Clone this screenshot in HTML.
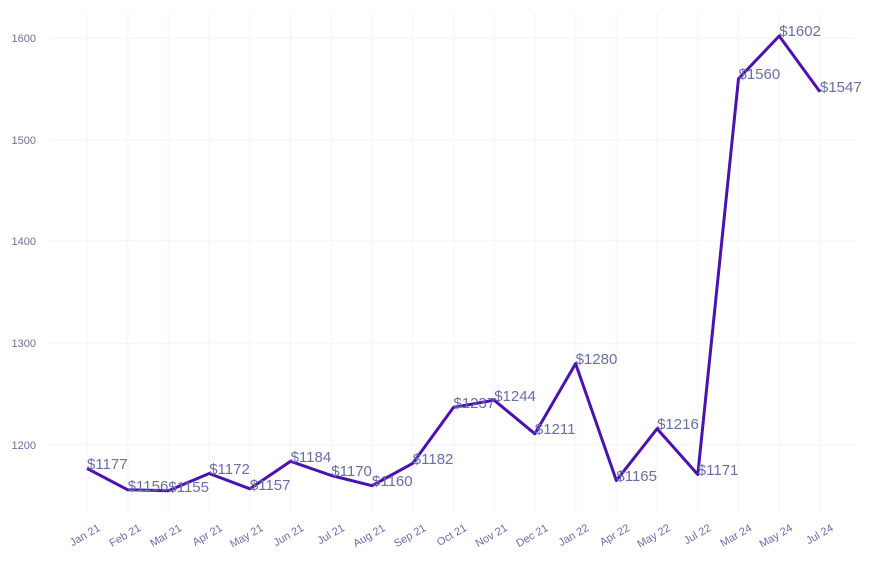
<!DOCTYPE html>
<html><head><meta charset="utf-8"><style>body{margin:0;background:#fff}svg{display:block}</style></head>
<body>
<svg width="873" height="565" xmlns="http://www.w3.org/2000/svg" font-family="Liberation Sans, Arial, sans-serif">
<g stroke="#f8f8fe" stroke-width="2">
<line x1="87" y1="13" x2="87" y2="512"/><line x1="127.7" y1="13" x2="127.7" y2="512"/><line x1="168.4" y1="13" x2="168.4" y2="512"/><line x1="209.2" y1="13" x2="209.2" y2="512"/><line x1="249.9" y1="13" x2="249.9" y2="512"/><line x1="290.6" y1="13" x2="290.6" y2="512"/><line x1="331.3" y1="13" x2="331.3" y2="512"/><line x1="372" y1="13" x2="372" y2="512"/><line x1="412.8" y1="13" x2="412.8" y2="512"/><line x1="453.5" y1="13" x2="453.5" y2="512"/><line x1="494.2" y1="13" x2="494.2" y2="512"/><line x1="534.9" y1="13" x2="534.9" y2="512"/><line x1="575.6" y1="13" x2="575.6" y2="512"/><line x1="616.4" y1="13" x2="616.4" y2="512"/><line x1="657.1" y1="13" x2="657.1" y2="512"/><line x1="697.8" y1="13" x2="697.8" y2="512"/><line x1="738.5" y1="13" x2="738.5" y2="512"/><line x1="779.2" y1="13" x2="779.2" y2="512"/><line x1="820" y1="13" x2="820" y2="512"/>
<line x1="50" y1="38" x2="855" y2="38"/><line x1="50" y1="140" x2="855" y2="140"/><line x1="50" y1="241" x2="855" y2="241"/><line x1="50" y1="343" x2="855" y2="343"/><line x1="50" y1="445" x2="855" y2="445"/>
</g>
<g fill="#6a6ea6" font-size="11" text-anchor="end">
<text x="36" y="42">1600</text><text x="36" y="144">1500</text><text x="36" y="245">1400</text><text x="36" y="347">1300</text><text x="36" y="449">1200</text>
</g>
<polyline fill="none" stroke="#4a12b0" stroke-width="3" stroke-linejoin="round" points="87,468.4 127.7,489.8 168.4,490.8 209.2,473.5 249.9,488.8 290.6,461.3 331.3,475.5 372,485.7 412.8,463.3 453.5,407.4 494.2,400.2 534.9,433.8 575.6,363.6 616.4,480.6 657.1,428.7 697.8,474.5 738.5,78.7 779.2,36 820,91.9"/>
<g fill="#6a6ea6" font-size="15">
<text x="87" y="469">$1177</text><text x="127.7" y="491">$1156</text><text x="168.4" y="492">$1155</text><text x="209.2" y="474">$1172</text><text x="249.9" y="490">$1157</text><text x="290.6" y="462">$1184</text><text x="331.3" y="476">$1170</text><text x="372" y="486">$1160</text><text x="412.8" y="464">$1182</text><text x="453.5" y="408">$1237</text><text x="494.2" y="401">$1244</text><text x="534.9" y="434">$1211</text><text x="575.6" y="364">$1280</text><text x="616.4" y="481">$1165</text><text x="657.1" y="429">$1216</text><text x="697.8" y="475">$1171</text><text x="738.5" y="79">$1560</text><text x="779.2" y="36">$1602</text><text x="820" y="92">$1547</text>
</g>
<g fill="#6a6ea6" font-size="11" text-anchor="end">
<text transform="translate(101,530) rotate(-30)">Jan 21</text><text transform="translate(141.7,530) rotate(-30)">Feb 21</text><text transform="translate(182.4,530) rotate(-30)">Mar 21</text><text transform="translate(223.2,530) rotate(-30)">Apr 21</text><text transform="translate(263.9,530) rotate(-30)">May 21</text><text transform="translate(304.6,530) rotate(-30)">Jun 21</text><text transform="translate(345.3,530) rotate(-30)">Jul 21</text><text transform="translate(386,530) rotate(-30)">Aug 21</text><text transform="translate(426.8,530) rotate(-30)">Sep 21</text><text transform="translate(467.5,530) rotate(-30)">Oct 21</text><text transform="translate(508.2,530) rotate(-30)">Nov 21</text><text transform="translate(548.9,530) rotate(-30)">Dec 21</text><text transform="translate(589.6,530) rotate(-30)">Jan 22</text><text transform="translate(630.4,530) rotate(-30)">Apr 22</text><text transform="translate(671.1,530) rotate(-30)">May 22</text><text transform="translate(711.8,530) rotate(-30)">Jul 22</text><text transform="translate(752.5,530) rotate(-30)">Mar 24</text><text transform="translate(793.2,530) rotate(-30)">May 24</text><text transform="translate(834,530) rotate(-30)">Jul 24</text>
</g>
</svg>
</body></html>
